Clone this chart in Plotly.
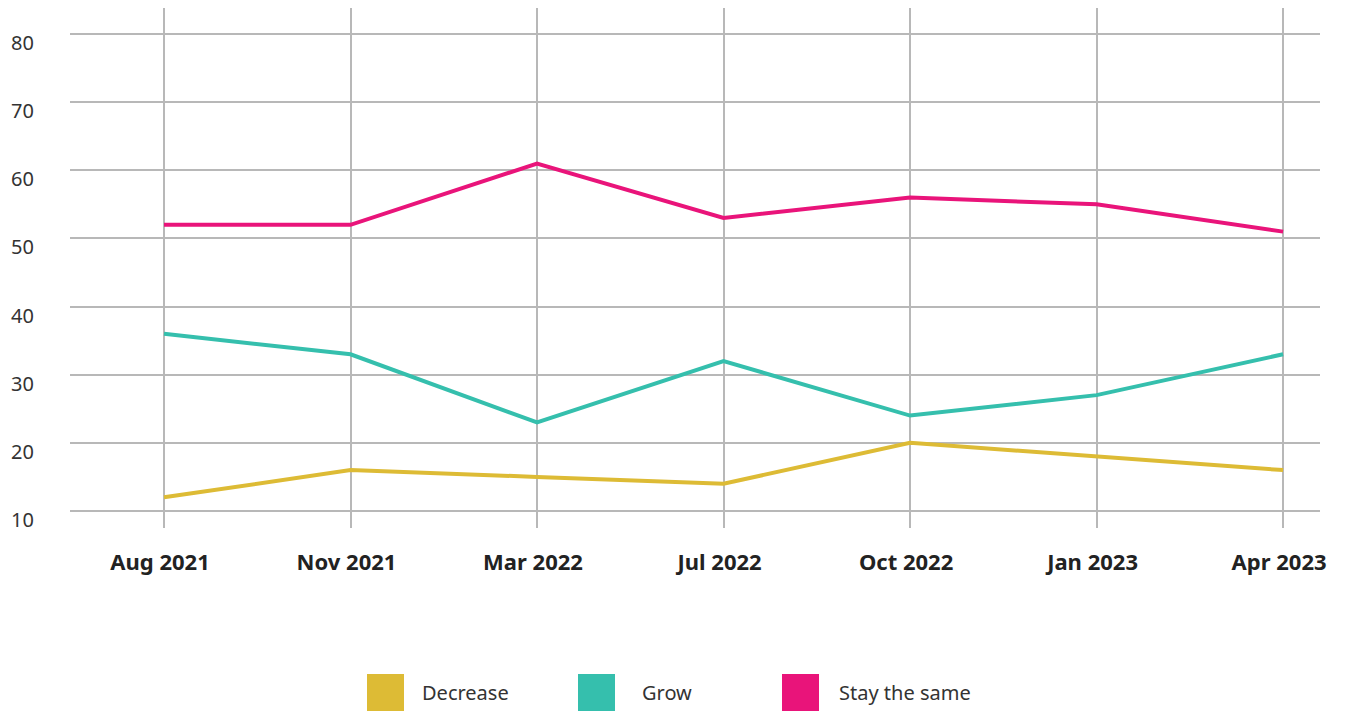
import plotly.graph_objects as go

# Survey periods and share of respondents (%) per expectation
periods = ["Aug 2021", "Nov 2021", "Mar 2022", "Jul 2022", "Oct 2022", "Jan 2023", "Apr 2023"]
decrease = [12, 16, 15, 14, 20, 18, 16]
grow = [36, 33, 23, 32, 24, 27, 33]
stay_same = [52, 52, 61, 53, 56, 55, 51]

series_names = ["Decrease", "Grow", "Stay the same"]
series_colors = ["#DDBB35", "#35BFAD", "#E9147A"]
y_ticks = [10, 20, 30, 40, 50, 60, 70, 80]

W, H = 1347, 713
L, R, T, B = 70, 27, 8, 185
font_family = "'Noto Sans', Lato, sans-serif"

fig = go.Figure()
for name, vals, col in zip(series_names, [decrease, grow, stay_same], series_colors):
    fig.add_trace(go.Scatter(
        x=list(range(len(periods))), y=vals, name=name, mode="lines",
        line=dict(color=col, width=4), showlegend=False,
    ))

fig.update_layout(
    width=W, height=H,
    margin=dict(l=L, r=R, t=T, b=B),
    plot_bgcolor="white", paper_bgcolor="white",
    font=dict(family=font_family, color="#333333", size=20),
    xaxis=dict(
        tickmode="array", tickvals=list(range(len(periods))), ticktext=[f"<b>{p}</b>" for p in periods],
        range=[-0.504, 6.198], showgrid=True, gridcolor="#b8b8b8", gridwidth=1.5,
        zeroline=False, showline=False, ticks="", ticklabelstandoff=19,
        ticklabelshift=-4, tickfont=dict(size=22, color="#222222"),
    ),
    yaxis=dict(
        tickmode="array", tickvals=y_ticks, range=[7.5, 83.82],
        showgrid=True, gridcolor="#b8b8b8", gridwidth=1.5,
        zeroline=False, showline=False, ticks="", ticklabelstandoff=35,
        ticklabelshift=9, tickfont=dict(size=20, color="#333333"),
    ),
)

# Legend drawn as square swatches with labels underneath the chart
plot_w = W - L - R
plot_h = H - T - B
legend_x = [367, 578, 782]
text_x = [420, 640, 837]
sw_top, sw_bot = 674, 711


def px_x(px):
    return (px - L) / plot_w


def px_y(py):
    return (H - B - py) / plot_h


for name, col, sx, tx in zip(series_names, series_colors, legend_x, text_x):
    fig.add_shape(type="rect", xref="paper", yref="paper",
                  x0=px_x(sx), x1=px_x(sx + 37), y0=px_y(sw_bot), y1=px_y(sw_top),
                  fillcolor=col, line=dict(width=0))
    fig.add_annotation(xref="paper", yref="paper", x=px_x(tx), y=px_y((sw_top + sw_bot) / 2),
                       text=name, showarrow=False, xanchor="left", yanchor="middle",
                       font=dict(size=20, color="#333333"))

fig.write_html("out.html")
